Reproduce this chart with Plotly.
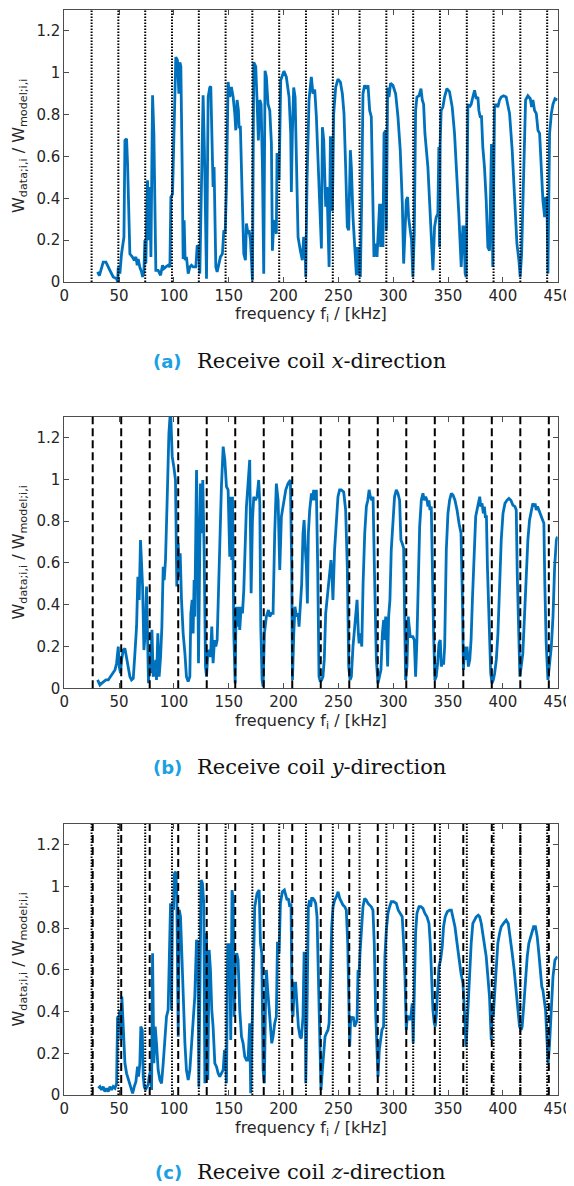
import plotly.graph_objects as go

W, H = 574, 1186
PAGE_OFFSET = 8          # default body margin of the html page
FW, FH = W - PAGE_OFFSET, H - PAGE_OFFSET

# ---------------- data ----------------
freq_a = [30.4, 32, 35.5, 38, 41.6, 44.6, 47.7, 48.6, 49.2, 50.7, 52.2, 54.4, 55.3, 56.8, 57.7, 59.8, 62, 63.8, 65.3, 66.5,
          67.4, 68.9, 70.5, 71.4, 72.6, 73.5, 74.4, 75.9, 77.1, 78, 79, 80.5, 81.7, 83.5, 85.6, 87.8, 89.6, 90.8, 92.6, 94.7,
          96.3, 97.2, 98.7, 99.9, 101.7, 103.2, 104.5, 105.4, 106.3, 107.5, 108.4, 109.3, 110.2, 111.4, 113, 114.5, 116, 117.5, 120, 121.2,
          122.7, 123.6, 125.1, 126.6, 127.8, 129.7, 131.2, 132.7, 133.6, 135.1, 135.7, 136.6, 138.2, 139.4, 141.2, 142.4, 144.2, 145.5, 146.7, 147.9,
          149.4, 150.9, 152.4, 154, 155.5, 156.4, 157.6, 158.8, 159.4, 160.6, 162.2, 163.7, 165.2, 166.1, 167.6, 168.5, 169.8, 170.7, 171.6, 172.8,
          174.6, 175.8, 177, 178.3, 179.5, 180.7, 181.9, 183.1, 184.3, 185.8, 187.4, 188.9, 189.8, 191, 192.2, 193.4, 194, 195.3, 195.9, 197.4,
          199.5, 200.3, 202.5, 205, 206.5, 207.1, 208, 209.2, 210.5, 211.7, 213.2, 215.3, 217.1, 218.3, 219.5, 220.2, 221.4, 223.2, 225.3, 226.8,
          228.4, 229.9, 231.4, 232.9, 234.5, 235.4, 236.6, 238.4, 239.6, 241.5, 242.7, 243.9, 244.5, 245.7, 247.5, 249.6, 251.8, 253.6, 255.1, 256.6,
          258.1, 259.4, 260.9, 261.8, 263.3, 264.9, 266.4, 267.3, 268.2, 269.4, 270, 271.2, 272.4, 273.9, 275.4, 277, 278.5, 280, 280.9, 282.4,
          283.9, 285.2, 286.4, 287.6, 288.5, 289.4, 290.6, 291.6, 293.1, 293.7, 294.9, 296.1, 297.6, 299.7, 302.2, 304.3, 306.4, 308.3, 309.5, 310.7,
          311.9, 313.1, 314, 315.5, 316.7, 317.9, 319.2, 320.4, 321.6, 323.5, 325.3, 326.5, 327.7, 328.9, 330.1, 331.6, 333.1, 334.7, 336.2, 337.7,
          339.2, 340.7, 341.6, 342.2, 342.8, 343.7, 345.3, 346.8, 348.9, 351.3, 353.8, 355.9, 358, 359.8, 362, 363.5, 364.4, 365.6, 366.5, 368.1,
          369.6, 371.1, 372.6, 374.2, 375.7, 377.2, 378.1, 379.3, 380.5, 381.7, 383.2, 384.8, 386.3, 387.8, 389.6, 390.8, 392.4, 393.9, 395.4, 397,
          398.5, 400.6, 403, 406.1, 408.5, 410.6, 412.8, 414.6, 415.8, 417.1, 418.9, 420.7, 422.8, 425, 426.2, 427.4, 428.9, 430.5, 432, 433.5,
          435, 436.5, 438.1, 439, 440.2, 441.1, 442.6, 444.2, 445.7, 447.5, 449.7]
ratio_a = [0.048, 0.03, 0.095, 0.095, 0.056, 0.024, 0.016, 0.0, 0.07, 0.04, 0.135, 0.215, 0.677, 0.685, 0.565, 0.135, 0.12, 0.104, 0.12, 0.08,
           0.11, 0.07, 0.048, 0.024, 0.048, 0.2, 0.088, 0.486, 0.2, 0.454, 0.12, 0.892, 0.71, 0.056, 0.056, 0.032, 0.08, 0.064, 0.072, 0.08,
           0.072, 0.406, 0.42, 0.66, 1.075, 1.06, 0.9, 1.05, 1.03, 0.55, 0.11, 0.295, 0.104, 0.12, 0.04, 0.072, 0.08, 0.072, 0.072, 0.175,
           0.167, 0.04, 0.55, 0.892, 0.63, 0.016, 0.884, 0.93, 0.935, 0.58, 0.454, 0.55, 0.072, 0.048, 0.088, 0.12, 0.135, 0.247, 0.231, 0.454,
           0.956, 0.884, 0.932, 0.884, 0.805, 0.725, 0.87, 0.82, 0.74, 0.74, 0.42, 0.135, 0.104, 0.28, 0.23, 0.247, 0.2, 0.12, 0.008, 1.05,
           1.03, 0.87, 0.677, 0.87, 0.85, 0.55, 0.04, 1.01, 0.98, 0.85, 0.82, 0.66, 0.15, 0.28, 0.295, 0.23, 0.61, 0.61, 0.486, 0.964,
           1.004, 1.008, 0.98, 0.884, 0.71, 0.43, 0.71, 0.93, 0.884, 0.63, 0.215, 0.15, 0.104, 0.215, 0.2, 0.024, 0.486, 0.87, 0.98, 0.9,
           0.92, 0.79, 0.55, 0.31, 0.16, 0.74, 0.68, 0.36, 0.454, 0.072, 0.69, 0.69, 0.34, 0.805, 0.93, 0.97, 0.956, 0.9, 0.805, 0.55,
           0.263, 0.247, 0.63, 0.55, 0.31, 0.167, 0.032, 0.167, 0.032, 0.167, 0.024, 0.39, 0.9, 0.94, 0.924, 0.94, 0.82, 0.79, 0.55, 0.12,
           0.183, 0.12, 0.247, 0.374, 0.167, 0.374, 0.167, 0.71, 0.725, 0.247, 0.93, 0.884, 0.95, 0.94, 0.9, 0.79, 0.63, 0.374, 0.088, 0.231,
           0.39, 0.406, 0.31, 0.247, 0.2, 0.024, 0.231, 0.82, 0.884, 0.89, 0.924, 0.87, 0.85, 0.71, 0.63, 0.55, 0.39, 0.231, 0.056, 0.263,
           0.31, 0.327, 0.645, 0.167, 0.66, 0.82, 0.836, 0.884, 0.924, 0.91, 0.836, 0.71, 0.518, 0.327, 0.072, 0.263, 0.263, 0.04, 0.024, 0.85,
           0.836, 0.85, 0.884, 0.916, 0.876, 0.884, 0.82, 0.79, 0.79, 0.645, 0.55, 0.39, 0.167, 0.15, 0.66, 0.072, 0.836, 0.85, 0.836, 0.87,
           0.884, 0.89, 0.884, 0.805, 0.63, 0.39, 0.183, 0.104, 0.024, 0.135, 0.55, 0.87, 0.89, 0.876, 0.836, 0.87, 0.82, 0.805, 0.725, 0.71,
           0.55, 0.39, 0.31, 0.406, 0.39, 0.04, 0.71, 0.805, 0.85, 0.876, 0.87]

freq_b = [30.4, 32.5, 34, 36.1, 38, 40.1, 42.2, 44.6, 46.2, 47.7, 49.2, 50.1, 51.3, 52.2, 53.8, 55.3, 56.8, 58.3, 59.8, 61.3,
          62.9, 64.4, 65.9, 67.1, 68.3, 69.5, 70.5, 71.4, 72.6, 73.8, 75, 75.9, 76.8, 77.4, 78.7, 79.9, 81.1, 82.3, 83.5, 84.1,
          85.3, 86.5, 87.8, 89, 90.2, 91.1, 92.3, 93.8, 95.4, 96.9, 98.4, 99.9, 101.4, 102.6, 103.9, 104.8, 105.7, 106.9, 108.4, 110,
          111.4, 113, 114.5, 115.4, 116.6, 117.5, 118.4, 119, 120.6, 121.5, 122.4, 123, 124.2, 125.4, 126.3, 127.5, 128.8, 129.7, 130.9, 132.1,
          133.3, 134.5, 135.7, 137, 138.2, 139.4, 140.3, 141.8, 143.3, 144.9, 146.4, 147.9, 149.4, 150.9, 151.8, 152.7, 153.4, 154.6, 155.8, 156.7,
          157.6, 158.8, 160, 161.3, 162.5, 163.7, 164.9, 166.1, 167.6, 169.1, 170.4, 171.6, 172.8, 174.3, 175.8, 177.3, 178.3, 179.2, 180.4, 181.3,
          182.5, 184.3, 186.2, 187.4, 188.9, 190.4, 191.9, 193.4, 195, 196.5, 198, 200.1, 202, 204, 206.2, 207.4, 208.1, 209.3, 210.4, 211.7,
          213.2, 214.1, 215.3, 216.5, 217.7, 218.7, 219.9, 220.8, 221.7, 222.6, 223.8, 225.4, 226.3, 227.5, 228.7, 229.9, 231.1, 232.3, 233.5, 234.7,
          235.9, 237.1, 238.4, 239.6, 240.8, 242, 243.2, 244.2, 245, 246.5, 248.1, 249.6, 251.1, 252.6, 254.8, 256.6, 258.1, 259.4, 260.6, 261.8,
          263.3, 264.9, 265.8, 267, 268.2, 268.9, 270.1, 271.3, 272.5, 274, 275.5, 276.8, 278, 279.1, 280.4, 281.6, 282.8, 284.6, 286.1, 287.6,
          288.8, 290.1, 291.3, 292.2, 293.1, 294, 294.9, 295.8, 297, 298.2, 299.7, 301.2, 302.8, 304.3, 305.8, 307, 308.2, 309.5, 310.4, 311.3,
          312.5, 313.7, 314.6, 315.5, 316.7, 317.9, 319.2, 320.4, 321.6, 322.8, 324.1, 325.6, 327.1, 328.3, 329.6, 330.8, 331.7, 332.6, 333.5, 334.7,
          335.6, 336.8, 338, 339.2, 340.5, 341.7, 342.9, 343.8, 344.7, 346, 346.9, 348.4, 349.9, 351.4, 353, 354.5, 356.3, 358.2, 360, 361.8,
          363.1, 364, 365.2, 366.4, 367.3, 368.5, 369.8, 371, 372.2, 373.7, 375.2, 376.4, 377.7, 378.9, 379.8, 381, 382.2, 383.1, 384, 385,
          385.9, 387.4, 388.9, 390.1, 391.3, 392.5, 394, 395.5, 397, 398.5, 400.1, 401.9, 403.7, 405.5, 407.3, 409.1, 411, 412.2, 413.1, 414.3,
          415.5, 416.7, 418.2, 419.7, 421.2, 422.8, 424.3, 425.8, 427.3, 428.5, 429.4, 430.4, 431.6, 432.8, 434, 435.2, 436.5, 437.4, 438.3, 439.5,
          441.1, 442.6, 444.2, 445.7, 447.2, 448.8, 449.7]
ratio_b = [0.04, 0.016, 0.024, 0.032, 0.04, 0.04, 0.056, 0.072, 0.088, 0.12, 0.2, 0.104, 0.072, 0.136, 0.183, 0.19, 0.15, 0.104, 0.056, 0.04,
           0.048, 0.167, 0.295, 0.534, 0.423, 0.71, 0.582, 0.487, 0.183, 0.263, 0.487, 0.2, 0.024, 0.167, 0.072, 0.28, 0.056, 0.072, 0.136, 0.04,
           0.263, 0.056, 0.15, 0.295, 0.582, 0.518, 0.614, 0.9, 1.22, 1.34, 1.11, 1.06, 0.997, 0.487, 0.694, 0.534, 0.646, 0.423, 0.263, 0.167,
           0.056, 0.032, 0.056, 0.359, 0.423, 0.263, 0.518, 0.343, 1.045, 0.742, 0.12, 0.39, 0.98, 0.742, 0.997, 0.662, 0.104, 0.056, 0.167, 0.183,
           0.15, 0.295, 0.12, 0.231, 0.2, 0.231, 0.423, 0.662, 0.965, 1.157, 1.093, 0.965, 0.95, 0.63, 0.917, 0.614, 0.917, 0.263, 0.024, 0.39,
           0.295, 0.39, 0.28, 0.39, 0.359, 0.47, 0.742, 0.87, 0.98, 1.093, 0.455, 0.805, 0.917, 0.9, 0.917, 0.997, 0.885, 0.295, 0.04, 0.008,
           0.263, 0.343, 0.375, 0.343, 0.359, 0.359, 0.742, 0.98, 0.9, 0.566, 0.822, 0.9, 0.95, 0.98, 0.997, 0.582, 0.04, 0.263, 0.39, 0.343,
           0.359, 0.295, 0.39, 0.5, 0.742, 0.805, 0.662, 0.582, 0.406, 0.742, 0.853, 0.933, 0.9, 0.95, 0.9, 0.95, 0.582, 0.056, 0.032, 0.04,
           0.056, 0.136, 0.359, 0.423, 0.455, 0.518, 0.614, 0.534, 0.423, 0.662, 0.822, 0.917, 0.95, 0.95, 0.94, 0.853, 0.582, 0.104, 0.04, 0.056,
           0.2, 0.295, 0.359, 0.423, 0.263, 0.215, 0.263, 0.2, 0.5, 0.742, 0.87, 0.9, 0.95, 0.917, 0.9, 0.917, 0.582, 0.136, 0.024, 0.056,
           0.088, 0.263, 0.327, 0.231, 0.343, 0.263, 0.104, 0.343, 0.423, 0.662, 0.822, 0.917, 0.95, 0.933, 0.9, 0.71, 0.694, 0.67, 0.343, 0.04,
           0.104, 0.343, 0.295, 0.247, 0.247, 0.247, 0.231, 0.056, 0.231, 0.582, 0.774, 0.9, 0.933, 0.9, 0.917, 0.9, 0.87, 0.9, 0.853, 0.87,
           0.582, 0.263, 0.04, 0.056, 0.12, 0.215, 0.231, 0.104, 0.12, 0.12, 0.2, 0.662, 0.837, 0.9, 0.933, 0.925, 0.9, 0.853, 0.79, 0.742,
           0.423, 0.088, 0.2, 0.136, 0.2, 0.104, 0.136, 0.231, 0.423, 0.662, 0.822, 0.853, 0.885, 0.917, 0.87, 0.885, 0.837, 0.87, 0.822, 0.822,
           0.582, 0.263, 0.072, 0.024, 0.04, 0.072, 0.136, 0.263, 0.5, 0.71, 0.837, 0.885, 0.9, 0.909, 0.9, 0.877, 0.87, 0.853, 0.55, 0.263,
           0.056, 0.104, 0.167, 0.343, 0.55, 0.71, 0.805, 0.853, 0.885, 0.87, 0.885, 0.853, 0.87, 0.853, 0.837, 0.822, 0.805, 0.79, 0.487, 0.215,
           0.04, 0.104, 0.2, 0.343, 0.582, 0.71, 0.726]

freq_c = [31, 32.5, 34, 35.5, 37, 38.6, 40.1, 41.6, 43.1, 44.6, 46.2, 47.7, 48.6, 49.8, 50.7, 51.6, 52.5, 53.8, 55.3, 56.8,
          58.6, 60.4, 62.3, 63.8, 65.3, 66.8, 67.7, 68.9, 69.8, 71.1, 72, 72.9, 74.1, 75.3, 76.5, 77.4, 78.7, 79.6, 80.5, 81.7,
          82.9, 84.1, 85.6, 87.2, 88.7, 90.2, 91.7, 93.2, 94.7, 95.7, 96.9, 97.8, 98.7, 99.6, 100.5, 101.7, 102.6, 103.9, 104.8, 106,
          107.2, 108.4, 110, 111.4, 113, 114.5, 116, 117.5, 119, 120.6, 121.8, 122.7, 123.6, 124.8, 126, 127.2, 128.2, 129.1, 129.7, 130.9,
          132.1, 133.3, 134.5, 135.7, 137.3, 138.8, 140.3, 141.8, 143.3, 144.9, 146.1, 147.3, 147.9, 149.1, 150.3, 150.9, 151.8, 153, 154, 154.9,
          156.1, 157.3, 158.5, 160, 161.6, 163.1, 164.6, 166.1, 167.6, 169.1, 170, 171, 172.2, 173.7, 175.8, 177.7, 178.9, 180.1, 181.3, 182.5,
          183.4, 184.3, 185.5, 186.8, 188, 189.2, 190.4, 191.9, 193.4, 194.4, 195.3, 195.9, 197.1, 198.9, 200.7, 202.5, 203.2, 204.4, 205.6, 206.8,
          207.7, 208.6, 209.8, 211, 212.3, 213.5, 215, 216.2, 217.7, 218.7, 219.6, 220.2, 221.4, 222.6, 223.8, 224.7, 225.6, 226.8, 228, 229.3,
          230.5, 231.7, 232.9, 234.1, 235.4, 236.6, 237.8, 239, 240.5, 241.5, 242.7, 243.9, 245.1, 246.6, 248.2, 249.7, 251.2, 252.7, 254.2, 255.8,
          257.2, 258.5, 259.4, 260.3, 261.2, 262.4, 263.6, 264.8, 266, 267, 267.9, 268.8, 269.7, 270.9, 272.4, 273.9, 275.4, 277, 278.5, 280,
          281.5, 282.7, 283.9, 285.2, 286.1, 287.3, 288.5, 289.7, 291.2, 292.4, 293.7, 295.2, 296.7, 298.2, 300.4, 302.8, 304.6, 306.4, 308.2, 309.5,
          310.7, 311.9, 312.8, 313.7, 314.9, 316.1, 316.7, 317.3, 318.2, 319.2, 320.4, 321.6, 323.5, 325.3, 327.1, 328.9, 330.8, 332.6, 333.8, 335,
          336.2, 337.4, 338.3, 339.2, 340.5, 341.7, 343.2, 344.7, 345.9, 347.4, 349.3, 351.4, 353, 354.5, 356.3, 358.2, 360, 361.8, 363.6, 365,
          366.5, 368.1, 369.6, 371.1, 372.6, 374.2, 375.7, 377.5, 378.8, 380.3, 381.8, 383.3, 384.8, 386.3, 387.8, 389.4, 390.3, 391.2, 392.4, 393.9,
          395.4, 397, 398.5, 400.6, 403, 404.9, 406.7, 408.5, 410.3, 412.2, 413.7, 415.2, 416.7, 417.6, 419.2, 420.7, 422.2, 423.7, 425.9, 428,
          429.7, 431.3, 432.8, 434.3, 435.5, 436.5, 437.7, 438.9, 440.1, 441.3, 442.6, 444.1, 445.7, 447.5, 449.7]
ratio_c = [0.032, 0.04, 0.024, 0.04, 0.016, 0.032, 0.016, 0.04, 0.024, 0.04, 0.032, 0.056, 0.376, 0.36, 0.408, 0.264, 0.472, 0.312, 0.152, 0.104,
           0.072, 0.04, 0.008, 0.04, 0.064, 0.136, 0.088, 0.152, 0.328, 0.312, 0.088, 0.04, 0.024, 0.04, 0.048, 0.088, 0.12, 0.024, 0.68, 0.152,
           0.328, 0.248, 0.12, 0.072, 0.056, 0.152, 0.248, 0.376, 0.408, 0.6, 0.92, 0.408, 0.92, 0.888, 1.063, 1.071, 0.967, 0.28, 0.888, 0.856,
           0.648, 0.472, 0.248, 0.12, 0.072, 0.12, 0.248, 0.376, 0.472, 0.744, 0.728, 0.04, 0.408, 1.031, 1.015, 0.92, 0.056, 0.248, 0.776, 0.072,
           0.696, 0.6, 0.408, 0.328, 0.152, 0.136, 0.104, 0.088, 0.104, 0.12, 0.216, 0.152, 0.056, 0.728, 0.568, 0.728, 0.264, 0.983, 0.935, 0.376,
           0.664, 0.68, 0.648, 0.408, 0.28, 0.248, 0.184, 0.168, 0.168, 0.344, 0.008, 0.264, 0.488, 0.903, 0.967, 0.983, 0.728, 0.68, 0.12, 0.056,
           0.408, 0.6, 0.504, 0.408, 0.344, 0.248, 0.28, 0.344, 0.376, 0.728, 0.728, 0.68, 0.92, 0.975, 0.983, 0.951, 0.935, 0.943, 0.903, 0.919,
           0.408, 0.376, 0.536, 0.536, 0.424, 0.328, 0.28, 0.272, 0.376, 0.68, 0.68, 0.056, 0.408, 0.903, 0.935, 0.903, 0.943, 0.943, 0.935, 0.919,
           0.855, 0.568, 0.248, 0.024, 0.12, 0.216, 0.28, 0.296, 0.312, 0.344, 0.568, 0.807, 0.903, 0.935, 0.951, 0.975, 0.943, 0.927, 0.911, 0.903,
           0.887, 0.728, 0.488, 0.232, 0.376, 0.36, 0.376, 0.328, 0.344, 0.36, 0.6, 0.568, 0.68, 0.807, 0.903, 0.943, 0.935, 0.919, 0.911, 0.903,
           0.887, 0.728, 0.408, 0.216, 0.088, 0.216, 0.28, 0.312, 0.328, 0.664, 0.791, 0.871, 0.903, 0.927, 0.927, 0.919, 0.887, 0.871, 0.855, 0.728,
           0.568, 0.312, 0.376, 0.376, 0.36, 0.376, 0.44, 0.44, 0.248, 0.568, 0.776, 0.871, 0.903, 0.903, 0.895, 0.871, 0.855, 0.823, 0.728, 0.568,
           0.408, 0.344, 0.328, 0.376, 0.504, 0.616, 0.648, 0.712, 0.807, 0.855, 0.879, 0.887, 0.887, 0.855, 0.807, 0.728, 0.648, 0.584, 0.536, 0.376,
           0.232, 0.408, 0.6, 0.728, 0.823, 0.839, 0.855, 0.863, 0.855, 0.823, 0.776, 0.712, 0.664, 0.568, 0.472, 0.264, 0.424, 0.376, 0.472, 0.568,
           0.728, 0.776, 0.807, 0.823, 0.839, 0.823, 0.76, 0.68, 0.6, 0.504, 0.408, 0.328, 0.312, 0.328, 0.44, 0.568, 0.664, 0.728, 0.776, 0.807,
           0.807, 0.76, 0.68, 0.6, 0.52, 0.504, 0.44, 0.408, 0.28, 0.152, 0.248, 0.408, 0.568, 0.648, 0.664]

# reference frequencies (vertical lines), kHz
dotted_lines = [24.9, 49.3, 73.8, 98.2, 122.7, 147.1, 171.5, 196.0, 220.4, 244.9, 269.3, 293.7, 318.2, 342.6,
                367.1, 391.5, 415.9, 440.4]
dashed_lines = [25.9, 51.9, 77.9, 103.9, 129.9, 155.9, 181.9, 207.9, 233.9, 259.9, 285.9, 311.9, 337.9, 363.9,
                389.9, 415.9, 441.9]

x_ticks = [0, 50, 100, 150, 200, 250, 300, 350, 400, 450]
y_ticks = [0, 0.2, 0.4, 0.6, 0.8, 1.0, 1.2]
y_ticklabels = ["0", "0.2", "0.4", "0.6", "0.8", "1", "1.2"]

captions = [("(a)", "x"), ("(b)", "y"), ("(c)", "z")]

# ---------------- layout helpers (window pixels -> paper coords) ----------------
def px_x(p):
    return (p - PAGE_OFFSET) / FW

def px_y(p):
    return 1 - (p - PAGE_OFFSET) / FH

LINE_BLUE = "#0072BD"
TXT = "#262626"
FRAME = "#4d4d4d"

panels = [
    dict(f=freq_a, w=ratio_a, top=10.0, bot=282.0, styles=["dot"], cap=361, xt=314),
    dict(f=freq_b, w=ratio_b, top=416.7, bot=688.3, styles=["dash"], cap=767, xt=721),
    dict(f=freq_c, w=ratio_c, top=824.0, bot=1095.0, styles=["dot", "dash"], cap=1172, xt=1128),
]

x_left, x_right = 64.3, 557.7

fig = go.Figure()
shapes = []
annotations = []
layout = {}

for i, p in enumerate(panels):
    k = "" if i == 0 else str(i + 1)
    xa, ya = "x" + k, "y" + k
    fig.add_trace(go.Scatter(x=p["f"], y=p["w"], mode="lines",
                             line=dict(color=LINE_BLUE, width=2.8),
                             xaxis=xa, yaxis=ya, showlegend=False, hoverinfo="x+y"))
    axis_common = dict(showline=True, linecolor=FRAME, linewidth=1, mirror="ticks",
                       ticks="inside", ticklen=5, tickcolor=FRAME, tickwidth=1,
                       showgrid=False, zeroline=False, automargin=False,
                       tickfont=dict(family="DejaVu Sans", size=15, color=TXT))
    layout["xaxis" + k] = dict(axis_common, domain=[px_x(x_left), px_x(x_right)], anchor=ya,
                               range=[0, 450], tickmode="array", tickvals=x_ticks)
    layout["yaxis" + k] = dict(axis_common, domain=[px_y(p["bot"]), px_y(p["top"])], anchor=xa,
                               range=[0, 1.3], tickmode="array", tickvals=y_ticks,
                               ticktext=y_ticklabels)
    for st in p["styles"]:
        vals = dotted_lines if st == "dot" else dashed_lines
        for v in vals:
            if st == "dot":
                ln = dict(color="black", width=2.0, dash="1.5px,1.5px")
            else:
                ln = dict(color="black", width=2.0, dash="8px,4px")
            shapes.append(dict(type="line", xref=xa, yref=ya + " domain", x0=v, x1=v, y0=0, y1=1,
                               line=ln, layer="above"))
    # axis titles
    annotations.append(dict(text="frequency f<sub>i</sub> / [kHz]", xref="paper", yref="paper",
                            x=px_x((x_left + x_right) / 2), y=px_y(p["xt"]), xanchor="center",
                            yanchor="middle", showarrow=False,
                            font=dict(family="DejaVu Sans", size=16, color=TXT)))
    annotations.append(dict(text="W<sub>data;i,i</sub> / W<sub>model;i,i</sub>", xref="paper", yref="paper",
                            x=px_x(19), y=px_y((p["top"] + p["bot"]) / 2), xanchor="center",
                            yanchor="middle", textangle=-90, showarrow=False,
                            font=dict(family="DejaVu Sans", size=16, color=TXT)))
    # caption
    lab, d = captions[i]
    annotations.append(dict(text="<b>" + lab + "</b>", xref="paper", yref="paper",
                            x=px_x(184), y=px_y(p["cap"]), xanchor="right", yanchor="middle",
                            showarrow=False, font=dict(family="DejaVu Sans", size=18, color="#1BA1E2")))
    annotations.append(dict(text="Receive coil <i>" + d + "</i>-direction", xref="paper", yref="paper",
                            x=px_x(195), y=px_y(p["cap"]), xanchor="left", yanchor="middle",
                            showarrow=False, font=dict(family="DejaVu Serif", size=21, color="#111111")))

fig.update_layout(width=FW, height=FH, margin=dict(l=0, r=0, t=0, b=0),
                  paper_bgcolor="white", plot_bgcolor="white",
                  shapes=shapes, annotations=annotations, **layout)

fig.write_html("out.html")
